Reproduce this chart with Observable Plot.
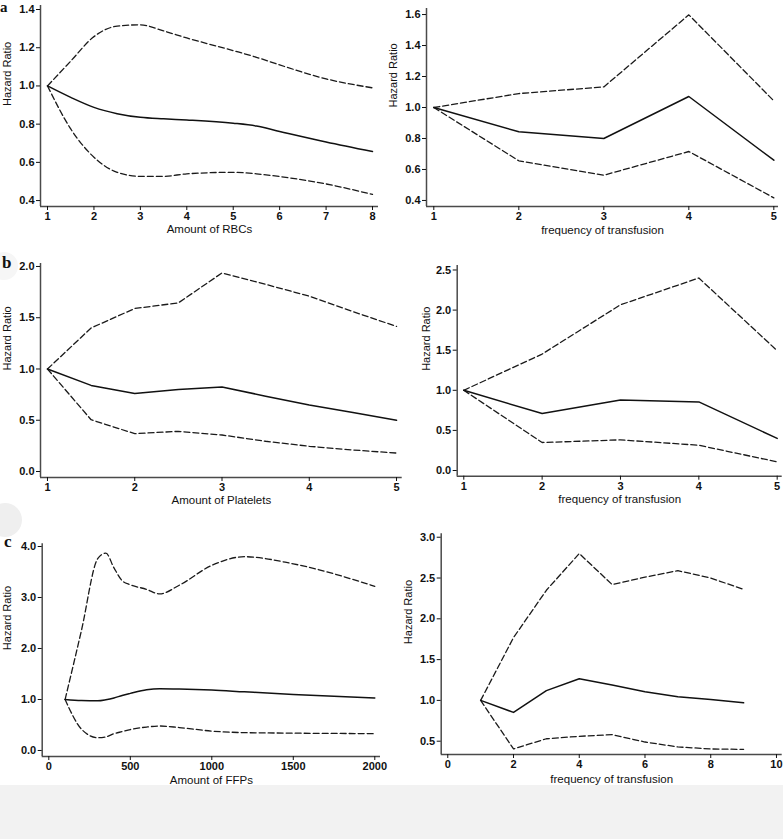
<!DOCTYPE html>
<html><head><meta charset="utf-8">
<script src="https://cdn.jsdelivr.net/npm/d3@7"></script>
<script src="https://cdn.jsdelivr.net/npm/@observablehq/plot@0.6"></script>
<style>
body{margin:0;background:#fff;}
#wrap{position:relative;width:783px;height:839px;overflow:hidden;background:#fff;}
.panel{position:absolute;}
.panel svg{overflow:visible;}
.tag{position:absolute;font-family:"Liberation Serif","Times New Roman",serif;font-weight:bold;font-size:17px;line-height:1;color:#111;}
.blob{position:absolute;border-radius:50%;background:#efefef;}
#grey{position:absolute;left:0;top:785px;width:783px;height:54px;background:#f2f2f2;}
</style></head><body><div id="wrap"><div class="blob" style="left:-12px;top:503px;width:34px;height:34px;"></div><div class="blob" style="left:-10px;top:252px;width:28px;height:28px;background:#f6f6f6;"></div><div id="grey"></div></div>
<script>
// ---- data ----
// a: RBCs
const rbcX  = [1, 1.5, 2, 2.5, 3, 3.5, 4, 5, 5.5, 6, 7, 8];
const rbcHR = [1.0, 0.94, 0.888, 0.855, 0.836, 0.828, 0.822, 0.805, 0.79, 0.762, 0.707, 0.657];
const rbcHi = [1.0, 1.13, 1.258, 1.313, 1.32, 1.288, 1.251, 1.185, 1.15, 1.11, 1.037, 0.99];
const rbcLo = [1.0, 0.775, 0.627, 0.548, 0.527, 0.527, 0.54, 0.548, 0.54, 0.526, 0.487, 0.432];
const rbcFreqX  = [1, 2, 3, 4, 5];
const rbcFreqHR = [1.0, 0.843, 0.80, 1.071, 0.66];
const rbcFreqHi = [1.0, 1.09, 1.133, 1.598, 1.043];
const rbcFreqLo = [1.0, 0.656, 0.563, 0.716, 0.417];
// b: Platelets
const pltX  = [1, 1.5, 2, 2.5, 3, 3.5, 4, 4.5, 5];
const pltHR = [1.0, 0.84, 0.76, 0.80, 0.825, 0.735, 0.648, 0.575, 0.50];
const pltHi = [1.0, 1.40, 1.59, 1.645, 1.937, 1.826, 1.71, 1.56, 1.415];
const pltLo = [1.0, 0.505, 0.369, 0.392, 0.356, 0.295, 0.246, 0.21, 0.18];
const pltFreqX  = [1, 2, 3, 4, 5];
const pltFreqHR = [1.0, 0.71, 0.88, 0.855, 0.40];
const pltFreqHi = [1.0, 1.452, 2.066, 2.40, 1.494];
const pltFreqLo = [1.0, 0.349, 0.382, 0.315, 0.108];
// c: FFPs
const ffpX  = [100, 200, 300, 350, 400, 450, 500, 600, 680, 800, 1000, 1200, 1500, 2000];
const ffpHR = [1.0, 0.98, 0.975, 0.995, 1.03, 1.08, 1.12, 1.19, 1.21, 1.205, 1.185, 1.15, 1.10, 1.03];
const ffpHi = [1.0, 2.35, 3.76, 3.87, 3.58, 3.33, 3.25, 3.16, 3.07, 3.24, 3.63, 3.80, 3.66, 3.22];
const ffpLo = [1.0, 0.42, 0.25, 0.265, 0.33, 0.37, 0.41, 0.46, 0.48, 0.45, 0.38, 0.35, 0.34, 0.33];
const ffpFreqX  = [1, 2, 3, 4, 5, 6, 7, 8, 9];
const ffpFreqHR = [1.0, 0.853, 1.12, 1.265, 1.19, 1.106, 1.045, 1.012, 0.97];
const ffpFreqHi = [1.0, 1.77, 2.35, 2.80, 2.42, 2.51, 2.59, 2.50, 2.36];
const ffpFreqLo = [1.0, 0.405, 0.53, 0.56, 0.58, 0.49, 0.43, 0.405, 0.40];
// tick labels
const ticksRBC = [1, 2, 3, 4, 5, 6, 7, 8];
const ticks1to5 = [1, 2, 3, 4, 5];
const ticksFFP = [0, 500, 1000, 1500, 2000];
const ticksFreq10 = [0, 2, 4, 6, 8, 10];
const yTicksA1 = [0.4, 0.6, 0.8, 1.0, 1.2, 1.4];
const yTicksA2 = [0.4, 0.6, 0.8, 1.0, 1.2, 1.4, 1.6];
const yTicksB1 = [0.0, 0.5, 1.0, 1.5, 2.0];
const yTicksB2 = [0.0, 0.5, 1.0, 1.5, 2.0, 2.5];
const yTicksC1 = [0.0, 1.0, 2.0, 3.0, 4.0];
const yTicksC2 = [0.5, 1.0, 1.5, 2.0, 2.5, 3.0];
const yTitle = "Hazard Ratio";
const xTitles = ["Amount of RBCs", "frequency of transfusion", "Amount of Platelets", "frequency of transfusion", "Amount of FFPs", "frequency of transfusion"];

const wrap = document.getElementById("wrap");
const f1 = d3.format(".1f"), f0 = d3.format("d");

function panel(o) {
  const rows = ys => o.xs.map((x, i) => ({x, y: ys[i]}));
  const frameBottom = o.top + o.height - o.mb;
  const svg = Plot.plot({
    width: o.width, height: o.height,
    marginLeft: o.ml, marginRight: o.mr, marginTop: o.mt, marginBottom: o.mb,
    style: {background: "transparent", fontFamily: "'Liberation Sans', Arial, sans-serif", fontSize: "11px", color: "#111", overflow: "visible"},
    x: {domain: o.xDomain, label: null},
    y: {domain: o.yDomain, label: null},
    marks: [
      Plot.ruleX([o.xDomain[0]], {stroke: "#4a4a4a", strokeWidth: 1.5}),
      Plot.ruleY([o.yDomain[0]], {stroke: "#4a4a4a", strokeWidth: 1.5}),
      Plot.axisX({ticks: o.xTicks, tickFormat: o.xFmt, tickSize: 4, tickPadding: 2, fontWeight: "bold", fontSize: 11}),
      Plot.axisY({ticks: o.yTicks, tickFormat: f1, tickSize: 4, tickPadding: 2, fontWeight: "bold", fontSize: 11}),
      Plot.line(rows(o.hi), {x: "x", y: "y", curve: o.curve, stroke: "#1a1a1a", strokeWidth: 1.3, strokeDasharray: "6,3"}),
      Plot.line(rows(o.lo), {x: "x", y: "y", curve: o.curve, stroke: "#1a1a1a", strokeWidth: 1.3, strokeDasharray: "6,3"}),
      Plot.line(rows(o.hr), {x: "x", y: "y", curve: o.curve, stroke: "#111", strokeWidth: 1.5}),
      Plot.text([o.xLabel], {frameAnchor: "bottom", lineAnchor: "middle", dy: o.xLabelY - frameBottom, fontSize: 11.5, fill: "#111"}),
      Plot.text([yTitle], {frameAnchor: "left", lineAnchor: "middle", rotate: -90, dx: o.yLabelX - (o.left + o.ml), fontSize: 11, fill: "#111",
        fontFamily: "'Liberation Sans Narrow', 'Arial Narrow', 'Liberation Sans', sans-serif"})
    ]
  });
  const div = document.createElement("div");
  div.className = "panel";
  div.style.left = o.left + "px";
  div.style.top = o.top + "px";
  div.appendChild(svg);
  wrap.appendChild(div);
}

// a - left
panel({left: 0, top: 0, width: 390, height: 240, ml: 40, mr: 12, mt: 5, mb: 34,
  xDomain: [0.849, 8.129], yDomain: [0.369, 1.421], xTicks: ticksRBC, yTicks: yTicksA1, xFmt: f0,
  xLabel: xTitles[0], xLabelY: 229, yLabelX: 7, xs: rbcX, hr: rbcHR, hi: rbcHi, lo: rbcLo, curve: "monotone-x"});
// a - right
panel({left: 390, top: 0, width: 393, height: 240, ml: 36, mr: 5, mt: 8, mb: 34,
  xDomain: [0.914, 5.055], yDomain: [0.361, 1.639], xTicks: ticks1to5, yTicks: yTicksA2, xFmt: f0,
  xLabel: xTitles[1], xLabelY: 230, yLabelX: 393, xs: rbcFreqX, hr: rbcFreqHR, hi: rbcFreqHi, lo: rbcFreqLo, curve: "linear"});
// b - left
panel({left: 0, top: 250, width: 410, height: 265, ml: 40, mr: 8.3, mt: 13, mb: 38,
  xDomain: [0.92, 5.065], yDomain: [-0.0585, 2.029], xTicks: ticks1to5, yTicks: yTicksB1, xFmt: f0,
  xLabel: xTitles[2], xLabelY: 500, yLabelX: 7, xs: pltX, hr: pltHR, hi: pltHi, lo: pltLo, curve: "linear"});
// b - right
panel({left: 410, top: 250, width: 373, height: 265, ml: 46.7, mr: 1.3, mt: 15, mb: 39.3,
  xDomain: [0.916, 5.064], yDomain: [-0.071, 2.556], xTicks: ticks1to5, yTicks: yTicksB2, xFmt: f0,
  xLabel: xTitles[3], xLabelY: 499, yLabelX: 426, xs: pltFreqX, hr: pltFreqHR, hi: pltFreqHi, lo: pltFreqLo, curve: "linear"});
// c - left
panel({left: 0, top: 530, width: 390, height: 255, ml: 41.7, mr: 10, mt: 13.3, mb: 29,
  xDomain: [-40.5, 2035], yDomain: [-0.118, 4.053], xTicks: ticksFFP, yTicks: yTicksC1, xFmt: f0,
  xLabel: xTitles[4], xLabelY: 780, yLabelX: 7, xs: ffpX, hr: ffpHR, hi: ffpHi, lo: ffpLo, curve: "monotone-x"});
// c - right
panel({left: 390, top: 530, width: 393, height: 255, ml: 50.7, mr: 1.3, mt: 3.3, mb: 31,
  xDomain: [-0.2, 10.174], yDomain: [0.337, 3.042], xTicks: ticksFreq10, yTicks: yTicksC2, xFmt: f0,
  xLabel: xTitles[5], xLabelY: 779, yLabelX: 408, xs: ffpFreqX, hr: ffpFreqHR, hi: ffpFreqHi, lo: ffpFreqLo, curve: "linear"});

// panel tags
[["a", 0, 0, 15], ["b", 2, 254, 17], ["c", 4, 533, 17]].forEach(([t, x, y, s]) => {
  const d = document.createElement("div");
  d.className = "tag"; d.textContent = t;
  d.style.left = x + "px"; d.style.top = y + "px"; d.style.fontSize = s + "px";
  wrap.appendChild(d);
});
</script>
</body></html>
